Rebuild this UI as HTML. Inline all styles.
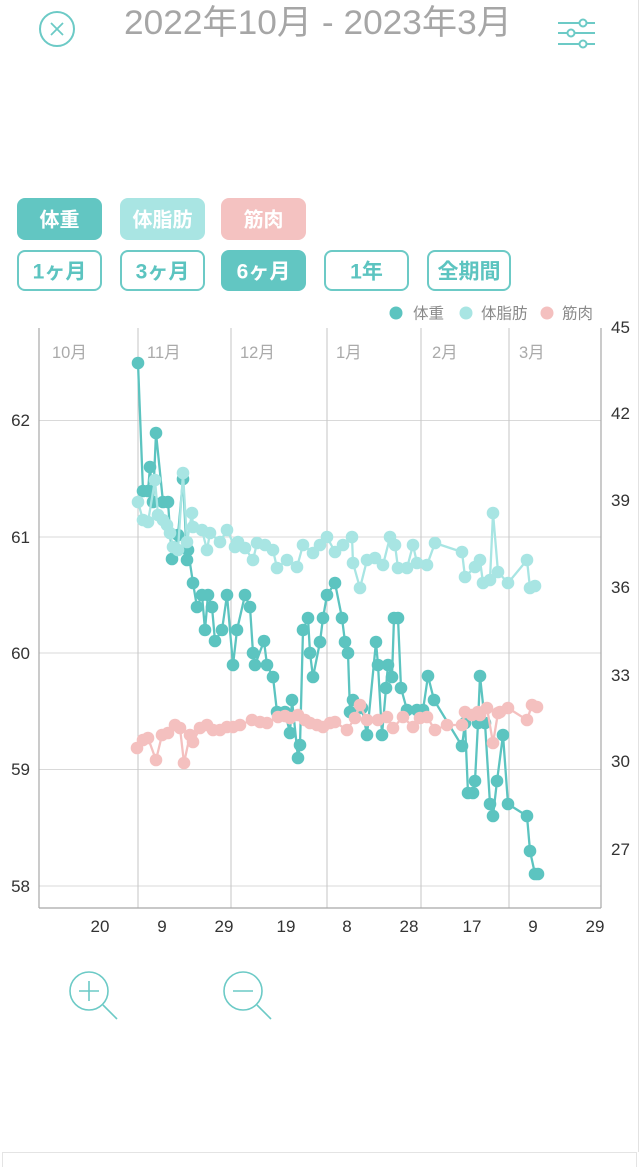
<!DOCTYPE html>
<html><head><meta charset="utf-8">
<style>
html,body{margin:0;padding:0;background:#fff;}
body{width:640px;height:1167px;overflow:hidden;}
svg{display:block;}
text{font-family:"Liberation Sans","Noto Sans CJK JP",sans-serif;}
</style></head>
<body>
<svg width="640" height="1167" viewBox="0 0 640 1167" xmlns="http://www.w3.org/2000/svg">
<defs>
<marker id="mw" markerWidth="14" markerHeight="14" refX="7" refY="7" markerUnits="userSpaceOnUse"><circle cx="7" cy="7" r="6.3" fill="#5cc4c0"/></marker>
<marker id="mf" markerWidth="14" markerHeight="14" refX="7" refY="7" markerUnits="userSpaceOnUse"><circle cx="7" cy="7" r="6.3" fill="#a8e5e3"/></marker>
<marker id="mm" markerWidth="14" markerHeight="14" refX="7" refY="7" markerUnits="userSpaceOnUse"><circle cx="7" cy="7" r="6.3" fill="#f4c0bf"/></marker>
</defs>
<rect width="640" height="1167" fill="#fff"/>
<line x1="638.5" y1="0" x2="638.5" y2="1152" stroke="#e2e2e2" stroke-width="1"/>

<!-- header -->
<circle cx="57" cy="29" r="17" fill="none" stroke="#6ccac6" stroke-width="2"/>
<line x1="51" y1="23" x2="63" y2="35" stroke="#6ccac6" stroke-width="1.8"/>
<line x1="63" y1="23" x2="51" y2="35" stroke="#6ccac6" stroke-width="1.8"/>
<text x="124" y="34" font-size="34" fill="#a6a6a6" textLength="388" lengthAdjust="spacingAndGlyphs">2022年10月 - 2023年3月</text>
<g stroke="#6ccac6" stroke-width="2" fill="#fff">
<line x1="558" y1="23" x2="595" y2="23"/>
<line x1="558" y1="33" x2="595" y2="33"/>
<line x1="558" y1="44" x2="595" y2="44"/>
<circle cx="583" cy="23" r="3.5"/>
<circle cx="571" cy="33" r="3.5"/>
<circle cx="583" cy="44" r="3.5"/>
</g>

<!-- buttons row 1 -->
<rect x="17" y="198" width="85" height="42" rx="8" fill="#62c6c2"/>
<text x="59.5" y="226.5" font-size="20" font-weight="bold" fill="#fff" text-anchor="middle">体重</text>
<rect x="120" y="198" width="85" height="42" rx="8" fill="#a9e5e3"/>
<text x="162.5" y="226.5" font-size="20" font-weight="bold" fill="#fff" text-anchor="middle">体脂肪</text>
<rect x="221" y="198" width="85" height="42" rx="8" fill="#f4c2c1"/>
<text x="263.5" y="226.5" font-size="20" font-weight="bold" fill="#fff" text-anchor="middle">筋肉</text>

<!-- buttons row 2 -->
<g fill="none" stroke="#6ccac6" stroke-width="2">
<rect x="18" y="251" width="83" height="39" rx="7"/>
<rect x="121" y="251" width="83" height="39" rx="7"/>
<rect x="325" y="251" width="83" height="39" rx="7"/>
<rect x="428" y="251" width="82" height="39" rx="7"/>
</g>
<rect x="221" y="250" width="85" height="41" rx="8" fill="#62c6c2"/>
<g font-size="21" font-weight="bold" text-anchor="middle" fill="#5cc4c0">
<text x="59.5" y="278.5">1ヶ月</text>
<text x="162.5" y="278.5">3ヶ月</text>
<text x="263.5" y="278.5" fill="#fff">6ヶ月</text>
<text x="366.5" y="278.5">1年</text>
<text x="469" y="278.5">全期間</text>
</g>

<!-- legend -->
<circle cx="396" cy="313" r="6.5" fill="#5cc4c0"/>
<text x="413" y="318.5" font-size="15.5" fill="#8a8a8a">体重</text>
<circle cx="466" cy="313" r="6.5" fill="#a8e5e3"/>
<text x="481" y="318.5" font-size="15.5" fill="#8a8a8a">体脂肪</text>
<circle cx="547" cy="313" r="6.5" fill="#f4c0bf"/>
<text x="562" y="318.5" font-size="15.5" fill="#8a8a8a">筋肉</text>

<!-- grid -->
<g stroke="#d9d9d9" stroke-width="1">
<line x1="39" y1="420.5" x2="601" y2="420.5"/>
<line x1="39" y1="537" x2="601" y2="537"/>
<line x1="39" y1="653" x2="601" y2="653"/>
<line x1="39" y1="769.5" x2="601" y2="769.5"/>
<line x1="39" y1="886" x2="601" y2="886"/>
</g>
<g stroke="#c6c6c6" stroke-width="1">
<line x1="138" y1="328" x2="138" y2="908"/>
<line x1="231" y1="328" x2="231" y2="908"/>
<line x1="327" y1="328" x2="327" y2="908"/>
<line x1="421" y1="328" x2="421" y2="908"/>
<line x1="509" y1="328" x2="509" y2="908"/>
</g>
<g stroke="#a8a8a8" stroke-width="1.2">
<line x1="39" y1="328" x2="39" y2="908"/>
<line x1="601" y1="328" x2="601" y2="908"/>
<line x1="39" y1="908" x2="601" y2="908"/>
</g>

<!-- month labels -->
<g font-size="16.5" fill="#aaaaaa">
<text x="52" y="358">10月</text>
<text x="147" y="358">11月</text>
<text x="240" y="358">12月</text>
<text x="336" y="358">1月</text>
<text x="432" y="358">2月</text>
<text x="519" y="358">3月</text>
</g>

<!-- left axis labels -->
<g font-size="17" fill="#333" text-anchor="end">
<text x="30" y="426">62</text>
<text x="30" y="543">61</text>
<text x="30" y="659">60</text>
<text x="30" y="775">59</text>
<text x="30" y="892">58</text>
</g>
<!-- right axis labels -->
<g font-size="17" fill="#333">
<text x="611" y="333">45</text>
<text x="611" y="419">42</text>
<text x="611" y="506">39</text>
<text x="611" y="593">36</text>
<text x="611" y="681">33</text>
<text x="611" y="767">30</text>
<text x="611" y="855">27</text>
</g>
<!-- bottom labels -->
<g font-size="17" fill="#333" text-anchor="middle">
<text x="100" y="932">20</text>
<text x="162" y="932">9</text>
<text x="224" y="932">29</text>
<text x="286" y="932">19</text>
<text x="347" y="932">8</text>
<text x="409" y="932">28</text>
<text x="472" y="932">17</text>
<text x="533" y="932">9</text>
<text x="595" y="932">29</text>
</g>

<!-- weight series -->
<polyline fill="none" stroke="#5cc4c0" stroke-width="2.3" stroke-linejoin="round" marker-start="url(#mw)" marker-mid="url(#mw)" marker-end="url(#mw)"
points="138,363 143,491 148,491 150,467 153,502 156,433 163,502 168,502 172,559 178,535 183,479 187,560 188,550 193,583 197,607 202,595 205,630 208,595 212,607 215,641 222,630 227,595 233,665 237,630 245,595 250,607 253,653 255,665 264,641 267,665 273,677 277,712 285,712 290,733 292,700 298,758 300,745 303,630 308,618 310,653 313,677 320,642 323,618 327,595 335,583 342,618 345,642 348,653 350,712 353,700 362,708 367,735 376,642 378,665 382,735 386,688 388,665 392,677 394,618 398,618 401,688 407,710 417,710 423,710 428,676 434,700 462,746 465,723 468,793 473,793 475,781 478,723 480,676 485,723 490,804 493,816 497,781 503,735 508,804 527,816 530,851 535,874 538,874"/>

<!-- body fat series -->
<polyline fill="none" stroke="#a8e5e3" stroke-width="2.3" stroke-linejoin="round" marker-start="url(#mf)" marker-mid="url(#mf)" marker-end="url(#mf)"
points="138,502 143,520 148,522 155,480 158,515 163,520 167,525 170,533 173,547 178,550 183,473 187,542 192,513 193,527 202,530 207,550 210,533 220,542 227,530 235,547 238,542 245,548 253,560 257,543 265,545 273,550 277,568 287,560 297,567 303,545 313,553 320,545 327,537 335,552 343,545 352,537 353,563 360,588 367,560 375,558 383,565 390,537 395,545 398,568 407,568 413,545 417,563 427,565 435,543 462,552 465,577 475,567 480,560 483,583 490,580 493,513 498,572 508,583 527,560 530,588 535,586"/>

<!-- muscle series -->
<polyline fill="none" stroke="#f4c0bf" stroke-width="2.3" stroke-linejoin="round" marker-start="url(#mm)" marker-mid="url(#mm)" marker-end="url(#mm)"
points="137,748 143,740 148,738 156,760 162,735 168,733 175,725 180,728 184,763 190,735 193,742 200,728 207,725 213,730 220,730 227,727 233,727 240,725 252,720 260,722 267,723 278,717 285,716 290,718 298,715 305,720 310,723 317,725 323,727 330,723 335,722 347,730 355,718 360,705 367,720 378,720 387,717 393,728 403,717 413,727 420,718 427,717 435,730 447,725 462,725 465,712 472,715 478,712 480,715 487,708 493,743 498,713 500,712 508,708 527,720 532,705 537,707"/>

<!-- zoom icons -->
<g fill="none" stroke="#6ccac6" stroke-width="1.6">
<circle cx="89" cy="991" r="19"/>
<line x1="103" y1="1005" x2="117" y2="1019"/>
<line x1="79" y1="991" x2="99" y2="991"/>
<line x1="89" y1="981" x2="89" y2="1001"/>
<circle cx="243" cy="991" r="19"/>
<line x1="257" y1="1005" x2="271" y2="1019"/>
<line x1="233" y1="991" x2="253" y2="991"/>
</g>

<!-- bottom box -->
<rect x="2.5" y="1152.5" width="634" height="20" fill="#fff" stroke="#e4e4e4" stroke-width="1"/>
</svg>
</body></html>
